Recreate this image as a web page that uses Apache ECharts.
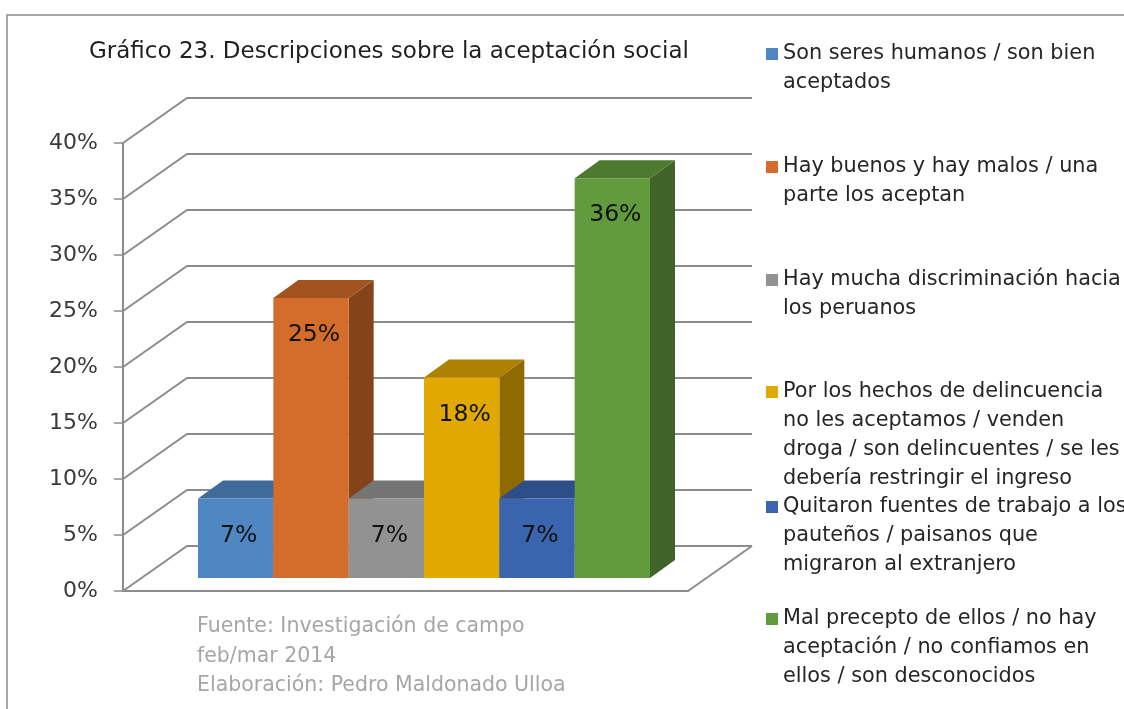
<!DOCTYPE html>
<html>
<head>
<meta charset="utf-8">
<script src="https://cdn.jsdelivr.net/npm/echarts@6/dist/echarts.min.js"></script>
<style>
  html, body { margin: 0; background: #fff; }
  #chart { width: 1124px; height: 709px; }
</style>
</head>
<body>
<div id="chart"></div>
<script>
// respuestas (una serie por respuesta, como en el original)
const answerNames = [
  'Son seres humanos / son bien\naceptados',
  'Hay buenos y hay malos / una\nparte los aceptan',
  'Hay mucha discriminación hacia\nlos peruanos',
  'Por los hechos de delincuencia\nno les aceptamos / venden\ndroga / son delincuentes / se les\ndebería restringir el ingreso',
  'Quitaron fuentes de trabajo a los\npauteños / paisanos que\nmigraron al extranjero',
  'Mal precepto de ellos / no hay\naceptación / no confiamos en\nellos / son desconocidos'
]
const answerShares = [0.071, 0.25, 0.071, 0.179, 0.071, 0.357]
const gridLevels = [0, 0.05, 0.10, 0.15, 0.20, 0.25, 0.30, 0.35, 0.40]

const titleText = 'Gráfico 23. Descripciones sobre la aceptación social'
const sourceText = 'Fuente: Investigación de campo\nfeb/mar 2014\nElaboración: Pedro Maldonado Ulloa'

// colores de las caras (frente / arriba / lado)
const frontColors = ['#4F87C2', '#D46D2B', '#929292', '#E0A800', '#3A64AE', '#629A3E']
const topColors = ['#3E6B99', '#A3531F', '#747474', '#AE8200', '#2D4E88', '#4E7A30']
const sideColors = ['#335780', '#84441A', '#5F5F5F', '#8E6A00', '#253F70', '#3F6329']
const lineColor = '#8c8c8c'
const FONT = 'DejaVu Sans'

// pseudo 3D
const WALL_DX = 64, WALL_DY = -45
const PLANE_DX = 18.5, PLANE_DY = -13
const BAR_DX = 25, BAR_DY = -18
const legendFirstLineY = [54, 167, 280, 392, 507, 619]
const LINE_H = 29

const pct = v => Math.round(v * 100) + '%'

const chart = echarts.init(document.getElementById('chart'))

const wallSeries = {
  type: 'custom',
  silent: true,
  z: 1,
  data: gridLevels.map(v => [0, v]),
  encode: { x: 0, y: 1 },
  renderItem: (params, api) => {
    const cs = params.coordSys
    const y = api.coord([0, api.value(1)])[1]
    const left = cs.x
    const right = cs.x + cs.width
    const children = [{
      type: 'polyline',
      shape: { points: [[left, y], [left + WALL_DX, y + WALL_DY], [right + WALL_DX, y + WALL_DY]] },
      style: { stroke: lineColor, lineWidth: 2, fill: 'none' }
    }]
    if (api.value(1) === 0) {
      children.push({
        type: 'line',
        shape: { x1: right, y1: y, x2: right + WALL_DX, y2: y + WALL_DY },
        style: { stroke: lineColor, lineWidth: 2 }
      })
    }
    return { type: 'group', children }
  }
}

const barSeries = answerNames.map((name, i) => ({
  type: 'custom',
  name,
  z: 2,
  silent: true,
  itemStyle: { color: frontColors[i] },
  data: [[0, answerShares[i]]],
  encode: { x: 0, y: 1 },
  renderItem: (params, api) => {
    const band = api.size([1, 0], [0, 0])[0]
    const base = api.coord([0, 0])
    const w = band * 0.8 / answerNames.length
    const x0 = base[0] - band * 0.4 + i * w + PLANE_DX
    const x1 = x0 + w
    const yb = base[1] + PLANE_DY
    const yt = api.coord([0, api.value(1)])[1] + PLANE_DY
    return {
      type: 'group',
      children: [
        {
          type: 'polygon',
          shape: { points: [[x1, yt], [x1 + BAR_DX, yt + BAR_DY], [x1 + BAR_DX, yb + BAR_DY], [x1, yb]] },
          style: { fill: sideColors[i] }
        },
        {
          type: 'polygon',
          shape: { points: [[x0, yt], [x0 + BAR_DX, yt + BAR_DY], [x1 + BAR_DX, yt + BAR_DY], [x1, yt]] },
          style: { fill: topColors[i] }
        },
        {
          type: 'rect',
          shape: { x: x0, y: yt, width: w, height: yb - yt },
          style: { fill: frontColors[i] }
        },
        {
          type: 'text',
          x: (x0 + x1) / 2 + 3,
          y: yt + 37,
          style: {
            text: pct(api.value(1)),
            fill: '#111',
            font: '23.5px "DejaVu Sans"',
            align: 'center',
            verticalAlign: 'middle'
          }
        }
      ]
    }
  }
}))

const option = {
  animation: false,
  backgroundColor: '#fff',
  title: [
    {
      text: titleText,
      left: 89,
      top: 37,
      padding: 0,
      textStyle: { fontFamily: FONT, fontSize: 23, fontWeight: 'normal', color: '#1f1f1f', lineHeight: 30 }
    },
    {
      text: sourceText,
      left: 197,
      top: 612,
      padding: 0,
      textStyle: { fontFamily: FONT, fontSize: 20.5, fontWeight: 'normal', color: '#a6a6a6', lineHeight: 29.5 }
    }
  ],
  // una leyenda por serie: líneas vacías delante para que el cuadro quede en la primera línea
  legend: answerNames.map((name, i) => {
    const extraLines = name.split('\n').length - 1
    return {
      data: [name],
      orient: 'vertical',
      left: 766,
      top: legendFirstLineY[i] - LINE_H / 2 - extraLines * LINE_H,
      padding: 0,
      icon: 'rect',
      itemWidth: 12,
      itemHeight: 12,
      selectedMode: false,
      formatter: n => ' \n'.repeat(extraLines) + n,
      textStyle: { fontFamily: FONT, fontSize: 20.8, color: '#262626', lineHeight: LINE_H }
    }
  }),
  grid: { left: 123, top: 143, width: 565, height: 448 },
  xAxis: {
    type: 'category',
    data: [''],
    axisLine: { show: true, lineStyle: { color: lineColor, width: 2 } },
    axisTick: { show: false },
    axisLabel: { show: false }
  },
  yAxis: {
    type: 'value',
    min: 0,
    max: 0.4,
    interval: 0.05,
    axisLine: { show: true, lineStyle: { color: lineColor, width: 2 } },
    axisTick: { show: true, length: 9, lineStyle: { color: lineColor, width: 1.5 } },
    axisLabel: { formatter: pct, fontFamily: FONT, fontSize: 22, color: '#3a3a3a', margin: 25 },
    splitLine: { show: false }
  },
  graphic: [{
    type: 'polyline',
    silent: true,
    shape: { points: [[7, 709], [7, 15], [1124, 15]] },
    style: { stroke: '#8a8a8a', lineWidth: 1.5, fill: 'none' }
  }],
  series: [wallSeries, ...barSeries]
}

chart.setOption(option)
window.addEventListener('resize', () => chart.resize())
</script>
</body>
</html>
